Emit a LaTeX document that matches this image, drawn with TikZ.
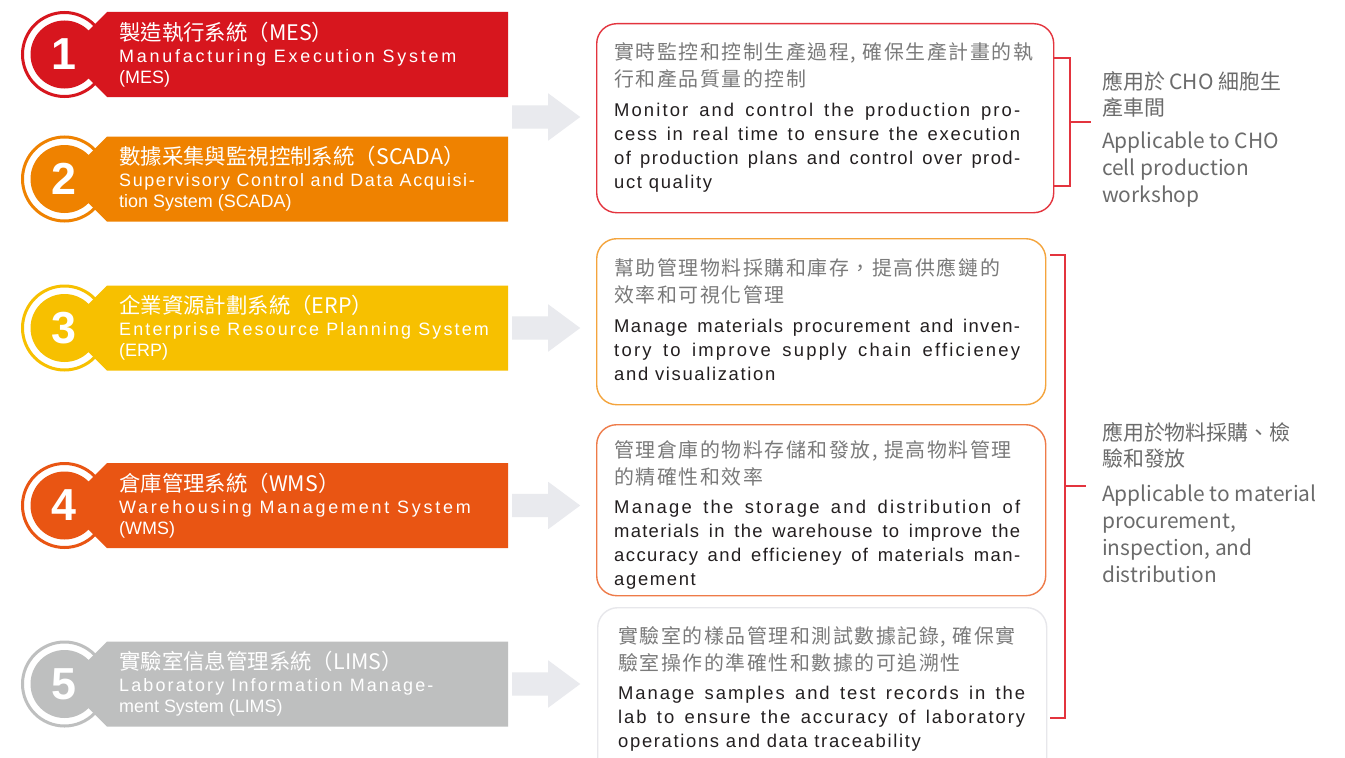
\documentclass[tikz,border=0pt]{standalone}
\usepackage{fontspec}
\setmainfont{Liberation Sans}
\newfontfamily\cjk{Noto Sans CJK TC}
\newfontfamily\numfont{Liberation Sans}
\usetikzlibrary{calc, positioning, shapes.arrows}

\definecolor{mesred}{HTML}{D7161E}
\definecolor{scadaorange}{HTML}{EF8200}
\definecolor{erpyellow}{HTML}{F7C000}
\definecolor{wmsorange}{HTML}{E95513}
\definecolor{limsgray}{HTML}{BEBFBF}
\definecolor{arrowgray}{HTML}{E9EAEE}
\definecolor{brackred}{HTML}{E3343E}
\definecolor{box1line}{HTML}{E3343E}
\definecolor{box2line}{HTML}{F4A43C}
\definecolor{box3line}{HTML}{EE7B49}
\definecolor{box4line}{HTML}{E7E7EB}
\definecolor{cngray}{HTML}{7A7A7A}
\definecolor{engray}{HTML}{231F20}
\definecolor{notegray}{HTML}{6B6B6B}

% tracked line
\newcommand\trk[2]{{\addfontfeature{LetterSpace=#1}#2}}

\begin{document}
\begin{tikzpicture}[x=1bp, y=-1bp,
    bantext/.style = {font=\fontsize{18}{21}\selectfont, text=white, align=left,
                      inner sep=0pt, anchor=west},
    numtext/.style = {font=\numfont\bfseries\fontsize{45}{45}\selectfont, text=white,
                      inner sep=0pt},
    grarrow/.style = {single arrow, fill=arrowgray, draw=none, inner xsep=0pt,
                      inner ysep=11.5bp, minimum height=68bp,
                      single arrow head extend=12bp, single arrow tip angle=73, anchor=tail},
    descbox/.style = {draw, line width=1.4bp, rounded corners=20bp, anchor=north west,
                      inner sep=0pt},
    cntext/.style  = {font=\cjk\fontsize{20}{27}\selectfont\addfontfeature{LetterSpace=8},
                      text=cngray, align=left, inner sep=0pt},
    entext/.style  = {font=\fontsize{18.5}{24}\selectfont\addfontfeature{LetterSpace=9},
                      text=engray, text width=406bp, align=justify, inner sep=0pt},
    notecn/.style  = {font=\cjk\fontsize{21}{26}\selectfont, text=notegray, align=left,
                      inner sep=0pt, anchor=north west},
    noteen/.style  = {font=\cjk\fontsize{21}{27}\selectfont, text=notegray, align=left,
                      inner sep=0pt},
    brk/.style     = {draw=brackred, line width=1.4bp} ]

\useasboundingbox (0,0) rectangle (1345,757);
\fill[white] (0,0) rectangle (1345,757);

% badges and banners
\foreach \nr/\y/\col/\cn/\ls/\enA/\enB in {
    1/54.5/mesred/製造執行系統（MES）/15.5/Manufacturing Execution System/(MES),
    2/179/scadaorange/數據采集與監視控制系統（SCADA）/9/Supervisory Control and Data Acquisi-/tion System (SCADA),
    3/328/erpyellow/企業資源計劃系統（ERP）/12/Enterprise Resource Planning System/(ERP),
    4/505.5/wmsorange/倉庫管理系統（WMS）/15.5/Warehousing Management System/(WMS),
    5/684/limsgray/實驗室信息管理系統（LIMS）/12/Laboratory Information Manage-/ment System (LIMS)}
{
  \draw[\col, line width=3bp] (64.5,\y) circle[radius=42bp];
  \fill[\col] (64.5,\y) circle[radius=34bp];
  \fill[\col] (107,\y-42.5) -- (508,\y-42.5) -- (508,\y+42.5) -- (107,\y+42.5)
      -- (80,\y+15.5) -- (80,\y-15.5) -- cycle;
  \node[numtext] (n\nr) at (63.5,\y) {\nr};
  \node[bantext] (t\nr) at (119,\y)
      {{\cjk\fontsize{21.5}{26}\selectfont \cn}\\[1bp]
       {\addfontfeature{LetterSpace=\ls}\enA}\\\enB};
}

% arrows
\node[grarrow] (a1) at (512,117) {};
\node[grarrow] (a3) at (512,328) {};
\node[grarrow] (a4) at (512,505.5) {};
\node[grarrow] (a5) at (512,684) {};

% description boxes
\node[descbox, draw=box1line, minimum width=457bp, minimum height=189bp] (d1) at (596,23) {};
\node[descbox, draw=box2line, minimum width=449bp, minimum height=166bp] (d2) at (596,238) {};
\node[descbox, draw=box3line, minimum width=449bp, minimum height=171bp] (d3) at (596,424) {};
\node[descbox, draw=box4line, minimum width=449bp, minimum height=175bp] (d4) at (597,607) {};

\node[cntext, below right=19bp and 18bp of d1.north west] (c1)
    {實時監控和控制生產過程, 確保生產計畫的執\\行和產品質量的控制};
\node[entext, below right=15bp and 0bp of c1.south west] (e1)
    {\trk{11.4}{Monitor and control the production pro-}\linebreak
     \trk{9.2}{cess in real time to ensure the execution}\linebreak
     \trk{7.5}{of production plans and control over prod-}\linebreak
     uct quality};

\node[cntext, below right=20bp and 18bp of d2.north west] (c2)
    {幫助管理物料採購和庫存，提高供應鏈的\\效率和可視化管理};
\node[entext, below right=15bp and 0bp of c2.south west] (e2)
    {\trk{7.4}{Manage materials procurement and inven-}\linebreak
     \trk{12.1}{tory to improve supply chain efficieney}\linebreak
     and visualization};

\node[cntext, below right=16bp and 18bp of d3.north west] (c3)
    {管理倉庫的物料存儲和發放, 提高物料管理\\的精確性和效率};
\node[entext, below right=14bp and 0bp of c3.south west] (e3)
    {\trk{12.1}{Manage the storage and distribution of}\linebreak
     \trk{6.9}{materials in the warehouse to improve the}\linebreak
     \trk{7.8}{accuracy and efficieney of materials man-}\linebreak
     agement};

\node[cntext, below right=19bp and 21bp of d4.north west] (c4)
    {實驗室的樣品管理和測試數據記錄, 確保實\\驗室操作的準確性和數據的可追溯性};
\node[entext, text width=407bp, below right=14bp and 0bp of c4.south west] (e4)
    {\trk{10.4}{Manage samples and test records in the}\linebreak
     \trk{10.4}{lab to ensure the accuracy of laboratory}\linebreak
     operations and data traceability};

% notes on the right
\node[notecn] (m1) at (1102,71.5) {應用於 CHO 細胞生\\產車間};
\node[noteen, below right=14bp and 0bp of m1.south west] (p1)
    {Applicable to CHO\\cell production\\workshop};
\node[notecn] (m2) at (1102,422.5) {應用於物料採購、檢\\驗和發放};
\node[noteen, below right=16bp and 0bp of m2.south west] (p2)
    {Applicable to material\\procurement,\\inspection, and\\distribution};

% brackets
\coordinate (k2) at ([xshift=4bp]d2.east);
\draw[brk] (d1.east |- 0,58) -- (1070,58) -- (1070,186) -- (d1.east |- 0,186);
\draw[brk, shorten >=11bp] (1070,122) -- (m1.west |- 0,122);
\draw[brk] (k2 |- 0,255) -- (1065,255) -- (1065,718) -- (k2 |- 0,718);
\draw[brk, shorten >=16bp] (1065,486) -- (m2.west |- 0,486);
\end{tikzpicture}
\end{document}
